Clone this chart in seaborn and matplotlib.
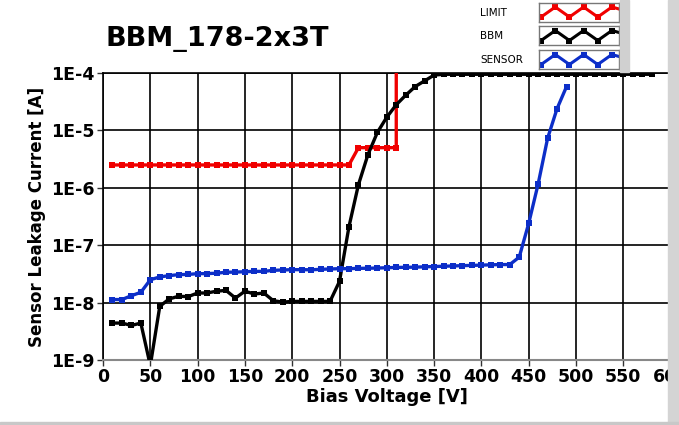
import numpy as np
import pandas as pd
import matplotlib
matplotlib.use("Agg")
import matplotlib.pyplot as plt
import seaborn as sns
from matplotlib.patches import Rectangle

sns.set_style("white")
plt.rcParams['font.family'] = ['DejaVu Sans']
plt.rcParams['text.color'] = 'black'
plt.rcParams['axes.labelcolor'] = 'black'
plt.rcParams['xtick.color'] = 'black'
plt.rcParams['ytick.color'] = 'black'

# ---------------- data ----------------
limit_v = [10, 20, 30, 40, 50, 60, 70, 80, 90, 100, 110, 120, 130, 140, 150, 160,
           170, 180, 190, 200, 210, 220, 230, 240, 250, 260, 270, 280, 290, 300, 310, 310]
limit_i = [2.5e-6] * 26 + [5e-6, 5e-6, 5e-6, 5e-6, 5e-6, 1e-3]

bbm_v = list(range(10, 590, 10))
bbm_i = [4.4e-9, 4.4e-9, 4.0e-9, 4.4e-9, 8e-10, 8.6e-9, 1.16e-8, 1.29e-8, 1.27e-8, 1.47e-8,
         1.47e-8, 1.58e-8, 1.63e-8, 1.2e-8, 1.58e-8, 1.41e-8, 1.47e-8, 1.08e-8, 1.02e-8, 1.05e-8,
         1.05e-8, 1.05e-8, 1.05e-8, 1.05e-8, 2.34e-8, 2.1e-7, 1.13e-6, 3.75e-6, 9.2e-6, 1.7e-5,
         2.8e-5, 4.1e-5, 5.8e-5, 7.3e-5, 9.2e-5] + [9.5e-5] * 23

sensor_v = list(range(10, 500, 10))
sensor_i = [1.13e-8, 1.13e-8, 1.32e-8, 1.51e-8, 2.5e-8, 2.8e-8, 2.95e-8, 3.07e-8, 3.1e-8, 3.19e-8,
            3.2e-8, 3.25e-8, 3.38e-8, 3.4e-8, 3.45e-8, 3.5e-8, 3.5e-8, 3.65e-8, 3.7e-8, 3.75e-8,
            3.75e-8, 3.73e-8, 3.8e-8, 3.85e-8, 3.9e-8, 3.9e-8, 3.95e-8, 3.97e-8, 4.0e-8, 4.05e-8,
            4.1e-8, 4.12e-8, 4.15e-8, 4.2e-8, 4.25e-8, 4.3e-8, 4.35e-8, 4.4e-8, 4.45e-8, 4.5e-8,
            4.55e-8, 4.6e-8, 4.6e-8, 6.2e-8, 2.4e-7, 1.17e-6, 7.3e-6, 2.4e-5, 5.8e-5]

series_names = ["LIMIT", "BBM", "SENSOR"]
series_colors = ["#f00000", "#000000", "#0c2ec8"]
x_ticks = list(range(0, 650, 50))
y_ticks = [1e-9, 1e-8, 1e-7, 1e-6, 1e-5, 1e-4]
y_ticklabels = ["1E-9", "1E-8", "1E-7", "1E-6", "1E-5", "1E-4"]
legend_wave = [0, 1, 0, 1, 0, 1, 0.6]

# ---------------- figure ----------------
W, H = 679, 425
fig = plt.figure(figsize=(W / 100, H / 100), dpi=100)
ax = fig.add_axes([103 / W, 1 - 360 / H, (670.6 - 103) / W, (360 - 73) / H])

data = [(limit_v, limit_i), (bbm_v, bbm_i), (sensor_v, sensor_i)]
for (vx, vy), name, col in zip(data, series_names, series_colors):
    df = pd.DataFrame({"v": vx, "i": vy})
    sns.lineplot(data=df, x="v", y="i", ax=ax, sort=False, estimator=None,
                 color=col, lw=2.4, marker="s", markersize=5, markeredgewidth=0,
                 zorder=3)

ax.set_yscale("log")
ax.set_xlim(0, 600)
ax.set_ylim(1e-9, 1e-4)
ax.set_xticks(x_ticks)
ax.set_xticklabels([str(t) for t in x_ticks], fontsize=12.5, fontweight="bold")
ax.set_yticks(y_ticks)
ax.set_yticklabels(y_ticklabels, fontsize=12.5, fontweight="bold")
ax.yaxis.set_minor_locator(matplotlib.ticker.NullLocator())
ax.tick_params(axis="both", which="major", length=4, width=1, color="#333333",
               direction="out", pad=2, left=True, bottom=True)
ax.grid(True, which="major", color="black", lw=1.2)
for s in ["left", "top", "right"]:
    ax.spines[s].set_color("black")
    ax.spines[s].set_linewidth(1.2)
ax.spines["bottom"].set_color("#888888")
ax.spines["bottom"].set_linewidth(1.5)

ax.set_xlabel("Bias Voltage [V]", fontsize=13, fontweight="bold", labelpad=1)
ax.set_ylabel("Sensor Leakage Current [A]", fontsize=12, fontweight="bold", labelpad=4)

fig.text(105 / W, 1 - 39 / H, "BBM_178-2x3T", fontsize=19.5, fontweight="bold",
         va="center", ha="left")

# ---------------- legend panel ----------------
fig.patches.append(Rectangle((620 / W, 1 - 72 / H), 9 / W, 72 / H,
                             transform=fig.transFigure, color="#d0d0d0", zorder=5))
fig.patches.append(Rectangle((668 / W, 0), 11 / W, 1,
                             transform=fig.transFigure, color="#d4d4d4", zorder=10))
fig.patches.append(Rectangle((0, 0), 1, 3 / H,
                             transform=fig.transFigure, color="#c8c8c8", zorder=10))

box_tops = [2.5, 26, 50]
for top, name, col in zip(box_tops, series_names, series_colors):
    lax = fig.add_axes([539 / W, 1 - (top + 19) / H, 80 / W, 19 / H])
    lax.plot(range(len(legend_wave)), legend_wave, color=col, lw=2.2, marker="s",
             markersize=4.5, markeredgewidth=0, solid_joinstyle="miter")
    lax.set_xlim(-0.15, len(legend_wave) - 1.5)
    lax.set_ylim(-0.45, 1.45)
    lax.set_xticks([])
    lax.set_yticks([])
    for s in lax.spines.values():
        s.set_color("#777777")
        s.set_linewidth(1)
    fig.text(480 / W, 1 - (top + 10) / H, name, fontsize=7.5, va="center", ha="left")

fig.savefig("out.png", dpi=100)
